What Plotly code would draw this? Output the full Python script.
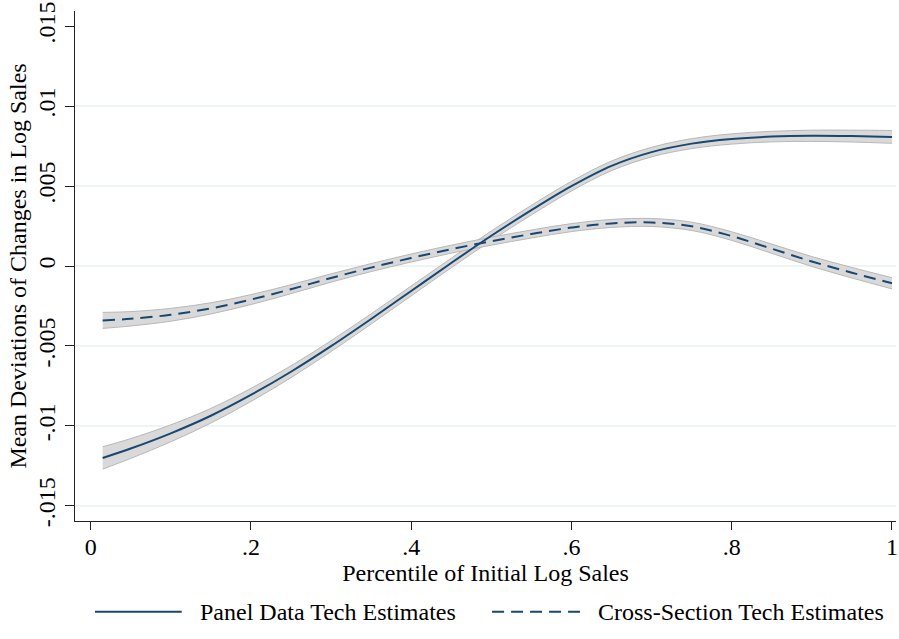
import plotly.graph_objects as go

# ---- data ----
pct = [0.015, 0.05, 0.10, 0.15, 0.20, 0.25, 0.30, 0.35, 0.40, 0.45, 0.50,
       0.55, 0.60, 0.65, 0.70, 0.75, 0.80, 0.85, 0.90, 0.95, 1.00]

panel = [-0.0120, -0.01141, -0.01046, -0.00936, -0.00806, -0.00661, -0.00501,
         -0.00331, -0.00156, 0.00019, 0.00189, 0.00349, 0.00499, 0.00626,
         0.00712, 0.00765, 0.00794, 0.00809, 0.00814, 0.00812, 0.00807]
panel_hw = [0.00070, 0.00062, 0.00053, 0.00046, 0.00041, 0.00037, 0.00034, 0.00032,
            0.00031, 0.00030, 0.00030, 0.00030, 0.00030, 0.00030, 0.00030, 0.00031,
            0.00032, 0.00033, 0.00035, 0.00037, 0.00040]

cross = [-0.0034, -0.0033, -0.00305, -0.00265, -0.0021, -0.00145, -0.00075,
         -0.0001, 0.0005, 0.00105, 0.00155, 0.0020, 0.0024, 0.00266, 0.00272,
         0.00248, 0.00187, 0.00108, 0.00028, -0.00042, -0.00108]
cross_hw = [0.00050, 0.00045, 0.00040, 0.00035, 0.00031, 0.00028, 0.00026, 0.00025,
            0.00025, 0.00025, 0.00025, 0.00025, 0.00025, 0.00025, 0.00025, 0.00026,
            0.00027, 0.00029, 0.00031, 0.00033, 0.00035]

x_ticks = [0, 0.2, 0.4, 0.6, 0.8, 1.0]
x_ticklabels = ["0", ".2", ".4", ".6", ".8", "1"]
y_ticks = [-0.015, -0.01, -0.005, 0, 0.005, 0.01, 0.015]
y_ticklabels = ["-.015", "-.01", "-.005", "0", ".005", ".01", ".015"]
grid_vals = [-0.015, -0.01, -0.005, 0, 0.005, 0.01]

series_names = ["Panel Data Tech Estimates", "Cross-Section Tech Estimates"]

NAVY = "#1a476f"
BAND_FILL = "#d9d9d9"
BAND_LINE = "#b8b8b8"
FONT = "Liberation Serif"
FS = 24

fig = go.Figure()

def add_band(vals, hw):
    lo = [v - h for v, h in zip(vals, hw)]
    hi = [v + h for v, h in zip(vals, hw)]
    fig.add_trace(go.Scatter(x=pct, y=lo, mode="lines",
                             line=dict(color=BAND_LINE, width=1, shape="spline"),
                             showlegend=False, hoverinfo="skip"))
    fig.add_trace(go.Scatter(x=pct, y=hi, mode="lines", fill="tonexty",
                             fillcolor=BAND_FILL,
                             line=dict(color=BAND_LINE, width=1, shape="spline"),
                             showlegend=False, hoverinfo="skip"))

add_band(panel, panel_hw)
add_band(cross, cross_hw)

fig.add_trace(go.Scatter(x=pct, y=panel, mode="lines", name=series_names[0],
                         line=dict(color=NAVY, width=2, shape="spline"),
                         showlegend=False))
fig.add_trace(go.Scatter(x=pct, y=cross, mode="lines", name=series_names[1],
                         line=dict(color=NAVY, width=2, shape="spline", dash="12px,7px"),
                         showlegend=False))

shapes = []
for g in grid_vals:
    shapes.append(dict(type="line", xref="paper", x0=0, x1=1, yref="y", y0=g, y1=g,
                       line=dict(color="#eaf2f3", width=1.5), layer="below"))

# manual legend
leg_y = -0.178
shapes.append(dict(type="line", xref="paper", yref="paper", x0=0.0243, x1=0.130,
                   y0=leg_y, y1=leg_y, line=dict(color=NAVY, width=2)))
shapes.append(dict(type="line", xref="paper", yref="paper", x0=0.508, x1=0.616,
                   y0=leg_y, y1=leg_y, line=dict(color=NAVY, width=2, dash="12px,7px")))

annotations = [
    dict(xref="paper", yref="paper", x=0.1495, y=leg_y, xanchor="left", yanchor="middle",
         text=series_names[0], showarrow=False, font=dict(family=FONT, size=FS, color="black")),
    dict(xref="paper", yref="paper", x=0.634, y=leg_y, xanchor="left", yanchor="middle",
         text=series_names[1], showarrow=False, font=dict(family=FONT, size=FS, color="black")),
]

fig.update_layout(
    width=899, height=639,
    margin=dict(l=75, r=1, t=9, b=118),
    plot_bgcolor="white", paper_bgcolor="white",
    font=dict(family=FONT, size=FS, color="black"),
    shapes=shapes, annotations=annotations,
    showlegend=False,
    xaxis=dict(range=[-0.0195, 1.005], tickvals=x_ticks, ticktext=x_ticklabels,
               showgrid=False, zeroline=False, showline=True, linecolor="#222",
               linewidth=1.2, ticks="outside", ticklen=8, tickcolor="#222", tickwidth=1.2,
               ticklabeloverflow="allow", ticklabelstandoff=-4,
               title=dict(text="Percentile of Initial Log Sales", standoff=2,
                          font=dict(family=FONT, size=FS))),
    yaxis=dict(range=[-0.01594, 0.01594], tickvals=y_ticks, ticktext=y_ticklabels,
               tickangle=-90, showgrid=False, zeroline=False, showline=True,
               linecolor="#222", linewidth=1.2, ticks="outside", ticklen=9,
               tickcolor="#222", tickwidth=1.2, ticklabeloverflow="allow",
               title=dict(text="Mean Deviations of Changes in Log Sales", standoff=0,
                          font=dict(family=FONT, size=FS))),
)

fig.write_html("out.html")
